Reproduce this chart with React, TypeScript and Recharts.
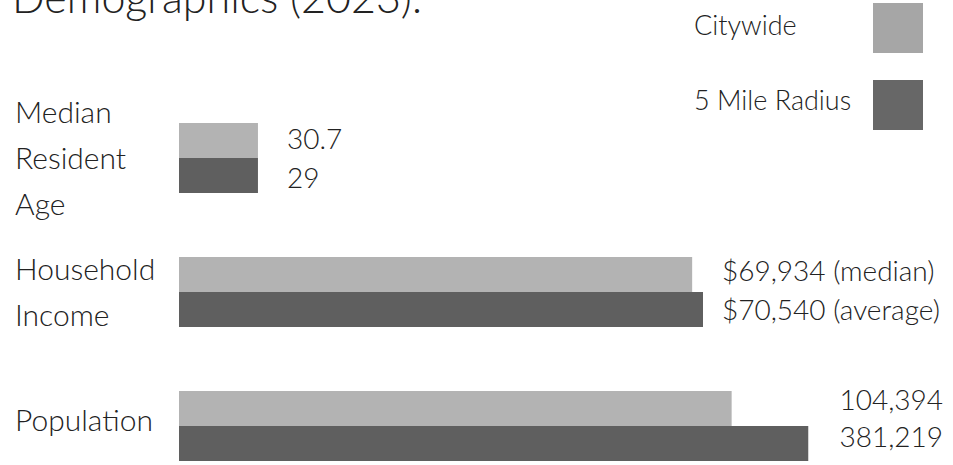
import { Bar, BarChart, LabelList, XAxis, YAxis } from 'recharts'

// categories (left labels, one entry per line)
const groups = ['Median Resident Age', 'Household Income', 'Population']
const groupLines = [['Median', 'Resident', 'Age'], ['Household', 'Income'], ['Population']]

// bar lengths as drawn, in % of the bar track (bars are not to a common scale)
const citywide = [10.2, 66.3, 71.4]
const radius = [10.2, 67.7, 81.3]

// printed values
const citywideLabels = ['30.7', '$69,934 (median)', '104,394']
const radiusLabels = ['29', '$70,540 (average)', '381,219']

const LIGHT = '#b3b3b3'
const DARK = '#5f5f5f'
const INK = '#222222'
const FONT = 'Lato, "Open Sans", sans-serif'

const data = groups.map((name, i) => ({
    name,
    citywide: citywide[i],
    radius: radius[i],
}))

function GroupTick(props: any) {
    const { y, payload } = props
    const lines = groupLines[payload.index]
    const step = 46
    // baseline of first line, so that the block is centred on the band
    const start = y - ((lines.length - 1) * step) / 2 + 11 - (lines.length === 1 ? 6 : 0)
    return (
        <text x={15} y={start} fontSize={30} fontWeight={300} fontFamily={FONT} fill={INK}>
            {lines.map((l, i) => (
                <tspan key={l} x={15} y={start + i * step}>
                    {l}
                </tspan>
            ))}
        </text>
    )
}

// square-ended bars
const FlatBar = (p: any) => <rect x={p.x} y={p.y} width={p.width} height={p.height} fill={p.fill} />

const labelGap = [29, 19]

const makeLabel = (texts: string[], own: number[], other: number[], shift: number[]) => (props: any) => {
    const { x, y, width, height, index } = props
    const cy = y + height / 2 + shift[index]
    if (index === groups.length - 1) {
        return (
            <text x={943} y={cy} textAnchor="end" dominantBaseline="central" fontSize={28} fontWeight={300} fontFamily={FONT} fill={INK}>
                {texts[index]}
            </text>
        )
    }
    const end = x + (width * Math.max(own[index], other[index])) / own[index]
    return (
        <text x={end + labelGap[index]} y={cy} dominantBaseline="central" fontSize={28} fontWeight={300} fontFamily={FONT} fill={INK}>
            {texts[index]}
        </text>
    )
}

const legendRows = [
    { label: 'Citywide', color: '#a6a6a6' },
    { label: '5 Mile Radius', color: '#676767' },
]

export default function App() {
    return (
        <div style={{ position: 'absolute', top: 0, left: 0, width: 953, height: 465, overflow: 'hidden', background: '#fff' }}>
            <div style={{ position: 'absolute', left: 12, top: -29, fontFamily: FONT, fontWeight: 300, fontSize: 43, color: INK, whiteSpace: 'nowrap' }}>
                Demographics (2023).
            </div>
            {legendRows.map((r, i) => (
                <div key={r.label}>
                    <span style={{ position: 'absolute', left: 694, top: 8 + i * 75, fontFamily: FONT, fontWeight: 300, fontSize: 27, color: INK, whiteSpace: 'nowrap' }}>
                        {r.label}
                    </span>
                    <span style={{ position: 'absolute', left: 873, top: 3 + i * 77, width: 50, height: 50, background: r.color }} />
                </div>
            ))}
            <BarChart
                width={953}
                height={500}
                data={data}
                layout="vertical"
                margin={{ top: 91, right: 0, bottom: 7, left: 0 }}
                barGap={0}
                barCategoryGap={32}
                style={{ position: 'absolute', top: 0, left: 0 }}
            >
                <XAxis type="number" domain={[0, 100]} hide />
                <YAxis type="category" dataKey="name" width={179} axisLine={false} tickLine={false} tick={<GroupTick />} />
                <Bar dataKey="citywide" name="Citywide" fill={LIGHT} barSize={35} shape={FlatBar} isAnimationActive={false}>
                    <LabelList dataKey="citywide" content={makeLabel(citywideLabels, citywide, radius, [-3, -5, -10])} />
                </Bar>
                <Bar dataKey="radius" name="5 Mile Radius" fill={DARK} barSize={35} shape={FlatBar} isAnimationActive={false}>
                    <LabelList dataKey="radius" content={makeLabel(radiusLabels, radius, citywide, [1, -1, -8])} />
                </Bar>
            </BarChart>
        </div>
    )
}
